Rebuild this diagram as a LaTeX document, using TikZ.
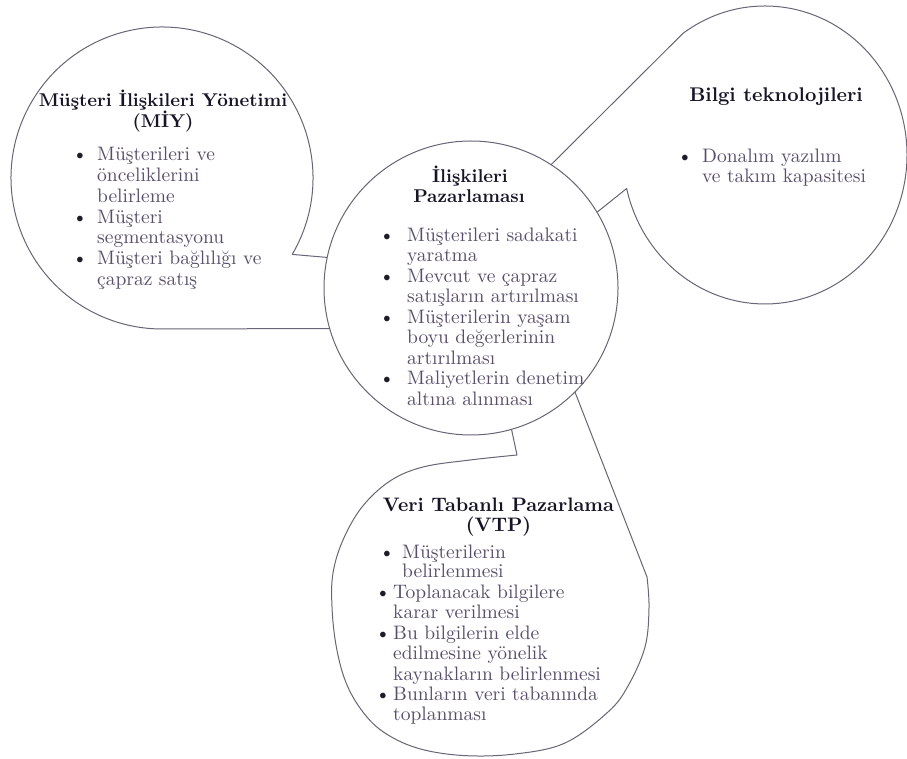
\documentclass[tikz,border=0pt]{standalone}
\usepackage{fontspec}
\setmainfont{lmroman10-regular.otf}[BoldFont=lmroman10-bold.otf]
\usetikzlibrary{calc}
\definecolor{linec}{RGB}{105,100,118}
\definecolor{bodyc}{RGB}{88,78,105}
\definecolor{titlec}{RGB}{22,20,38}
\definecolor{bulc}{RGB}{30,28,40}
\begin{document}
\begin{tikzpicture}[x=1pt,y=1pt,
  bubble/.style={draw=linec, line width=1pt, line join=round},
  body/.style={text=bodyc, font=\fontsize{19.5}{20.6}\selectfont, inner sep=0pt, anchor=base west},
  ttl/.style={text=titlec, font=\bfseries\fontsize{18.5}{21}\selectfont, inner sep=0pt, anchor=base},
  bul/.style={text=bulc, font=\fontsize{19.5}{20.6}\selectfont, inner sep=0pt, anchor=base}]
\useasboundingbox (0,0) rectangle (907,758);
\fill[white] (0,0) rectangle (907,758);

% centre circle
\node[circle, draw=linec, line width=1pt, minimum size=294pt, inner sep=0pt, outer sep=0pt] (C) at (471,470) {};

% left bubble
\coordinate (Lc) at (162,580);
\coordinate (Ltip) at ($(Lc)+(-30.4:151)$);
\draw[bubble] (C.168) -- (Ltip) arc[start angle=-30.4, end angle=270, radius=151] -- (C.196.2);

% right bubble
\coordinate (Rc) at (765,603);
\coordinate (Rtop) at ($(Rc)+(125.3:142 and 149)$);
\draw[bubble] (C.57.9) -- (Rtop) arc[start angle=125.3, end angle=-167, x radius=142, y radius=149] -- (C.31.6);

% bottom bubble
\draw[bubble] (C.286.5) -- plot[smooth, tension=0.6] coordinates {(517,303) (470,298) (423,291) (390,277) (362,251) (343,218) (333,185) (332,151) (336,113) (345,78) (360,50) (382,27) (417,10) (463,2.5) (515,4) (565,15) (608,46) (628,72) (645,111) (649,150) (647,181)} -- (C.315);

% left texts
\node[ttl] (LT1) at (163,651) {Müşteri İlişkileri Yönetimi};
\node[ttl] (LT2) at (163,630) {(MİY)};
\node[bul] (LB1) at (80,597) {\textbullet};
\node[body] (L1) at (97,597) {Müşterileri ve};
\node[body] (L2) at (97,576.3) {önceliklerini};
\node[body] (L3) at (97,555.6) {belirleme};
\node[bul] (LB2) at (80,534.9) {\textbullet};
\node[body] (L4) at (97,534.9) {Müşteri};
\node[body] (L5) at (97,514.2) {segmentasyonu};
\node[bul] (LB3) at (80,493.5) {\textbullet};
\node[body] (L6) at (97,493.5) {Müşteri bağlılığı ve};
\node[body] (L7) at (97,472.8) {çapraz satış};

% centre texts
\node[ttl] (CT1) at (470,575) {İlişkileri};
\node[ttl] (CT2) at (469,555) {Pazarlaması};
\node[bul] (CB1) at (387,516.5) {\textbullet};
\node[body] (C1) at (407,516.5) {Müşterileri sadakati};
\node[body] (C2) at (407,496) {yaratma};
\node[bul] (CB2) at (387,475.6) {\textbullet};
\node[body] (C3) at (407,475.6) {Mevcut ve çapraz};
\node[body] (C4) at (407,455.1) {satışların artırılması};
\node[bul] (CB3) at (387,434.7) {\textbullet};
\node[body] (C5) at (407,434.7) {Müşterilerin yaşam};
\node[body] (C6) at (407,414.2) {boyu değerlerinin};
\node[body] (C7) at (407,393.8) {artırılması};
\node[bul] (CB4) at (387,373.3) {\textbullet};
\node[body] (C8) at (407,373.3) {Maliyetlerin denetim};
\node[body] (C9) at (407,352.9) {altına alınması};

% right texts
\node[ttl, font=\bfseries\fontsize{19.8}{21}\selectfont] (RT1) at (776,656.3) {Bilgi teknolojileri};
\node[bul] (RB1) at (685,595) {\textbullet};
\node[body] (R1) at (702,595) {Donalım yazılım};
\node[body] (R2) at (702,575) {ve takım kapasitesi};

% bottom texts
\node[ttl, font=\bfseries\fontsize{19.5}{21}\selectfont] (BT1) at (498.5,246.3) {Veri Tabanlı Pazarlama};
\node[ttl, font=\bfseries\fontsize{19.5}{21}\selectfont] (BT2) at (498.5,226.3) {(VTP)};
\node[bul] (BB1) at (387,200) {\textbullet};
\node[body] (B1) at (402,200) {Müşterilerin};
\node[body] (B2) at (402,181) {belirlenmesi};
\node[bul] (BB2) at (383,160) {\textbullet};
\node[body] (B3) at (393,160) {Toplanacak bilgilere};
\node[body] (B4) at (393,140) {karar verilmesi};
\node[bul] (BB3) at (383,119) {\textbullet};
\node[body] (B5) at (393,119) {Bu bilgilerin elde};
\node[body] (B6) at (393,99) {edilmesine yönelik};
\node[body] (B7) at (393,78) {kaynakların belirlenmesi};
\node[bul] (BB4) at (383,58) {\textbullet};
\node[body] (B8) at (393,58) {Bunların veri tabanında};
\node[body] (B9) at (393,38) {toplanması};
\end{tikzpicture}
\end{document}
